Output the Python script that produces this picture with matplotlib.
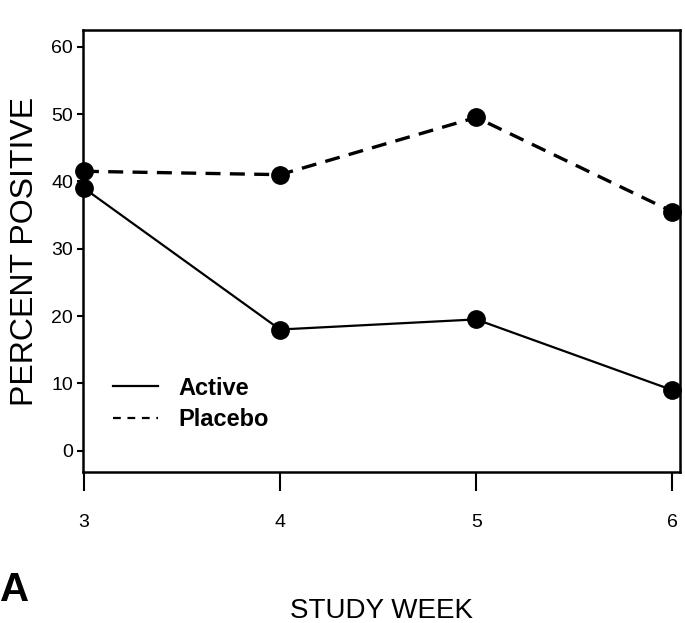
import matplotlib
matplotlib.use('Agg')
import matplotlib.pyplot as plt
from matplotlib.lines import Line2D

#Data
weeks = [3, 4, 5, 6]
activePct = [39, 18, 19.5, 9]
placeboPct = [41.5, 41, 49.5, 35.5]
yTicks = [0, 10, 20, 30, 40, 50, 60]

lib = ['Liberation Sans', 'DejaVu Sans']

fig = plt.figure(figsize=(6.85, 6.23), dpi=100)
ax = fig.add_axes([0.121, 0.242, 0.872, 0.71])

ax.plot(weeks, activePct, color='black', lw=1.6, marker='o', ms=12.5, clip_on=False)
ax.plot(weeks, placeboPct, color='black', lw=2.4, dashes=(4.5, 2.8), marker='o', ms=12.5, clip_on=False)

ax.set_xlim(2.995, 6.04)
ax.set_ylim(-3.2, 62.5)
ax.set_xticks(weeks)
ax.set_yticks(yTicks)
ax.set_xticklabels([str(w) for w in weeks], family=lib, fontsize=14)
ax.set_yticklabels([str(t) for t in yTicks], family=lib, fontsize=14)
ax.tick_params(axis='x', direction='out', length=14, width=1.5, pad=16)
ax.tick_params(axis='y', direction='out', length=4, width=1.5, pad=3)
for s in ax.spines.values():
	s.set_linewidth(1.8)

ax.set_ylabel('PERCENT POSITIVE', family=lib, fontsize=23, labelpad=8)
ax.set_xlabel('STUDY WEEK', family=lib, fontsize=20, labelpad=48)

#legend keys without markers
handles = [Line2D([], [], color='black', lw=1.6),
		   Line2D([], [], color='black', lw=1.6, dashes=(3.5, 3))]
ax.legend(handles, ['Active', 'Placebo'], loc='center left', bbox_to_anchor=(0.05, 0.155),
		  frameon=False, prop={'family': lib, 'size': 17, 'weight': 'bold'},
		  handlelength=1.9, handletextpad=0.9, labelspacing=0.35,
		  borderpad=0, borderaxespad=0)

fig.text(0.0, 0.035, 'A', family=lib, fontsize=29, fontweight='bold')

fig.savefig('out.png', dpi=100)
